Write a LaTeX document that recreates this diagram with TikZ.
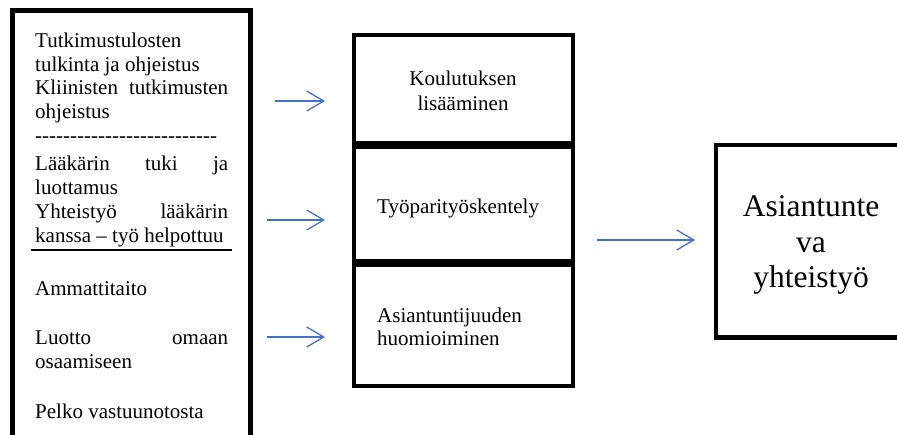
\documentclass[tikz,border=0pt]{standalone}
\usepackage{fontspec}
\setmainfont{Liberation Serif}
\usetikzlibrary{arrows.meta}
\definecolor{arrowblue}{RGB}{68,114,196}
\tikzset{
  frame/.style={draw, line width=4.5pt, inner sep=0pt, outer sep=0pt, anchor=north west},
  ltext/.style={anchor=base west, inner sep=0pt, font=\fontsize{21}{25}\selectfont},
  ctext/.style={anchor=base, inner sep=0pt, font=\fontsize{21}{25}\selectfont},
  bigtext/.style={align=center, inner sep=0pt, font=\fontsize{31.5}{35.5}\selectfont},
  flow/.style={draw=arrowblue, line width=1.3pt, -{Straight Barb[length=17pt,width=20pt,line width=1.3pt]}}
}
\newcommand{\jline}[1]{\makebox[193pt][s]{#1}}
\begin{document}
\begin{tikzpicture}[x=1pt,y=-1pt]
\useasboundingbox (0,0) rectangle (897,434);
\clip (0,0) rectangle (897,434);
% left column box (open at bottom)
\node[frame, minimum width=238pt, minimum height=460pt] (left) at (12.5,10.5) {};
\node[ltext] (t1) at (35,47) {Tutkimustulosten};
\node[ltext] (t2) at (35,71) {tulkinta ja ohjeistus};
\node[ltext] (t3) at (35,94) {\jline{Kliinisten tutkimusten}};
\node[ltext] (t4) at (35,118) {ohjeistus};
\node[ltext] (t5) at (35,142) {-{}-{}-{}-{}-{}-{}-{}-{}-{}-{}-{}-{}-{}-{}-{}-{}-{}-{}-{}-{}-{}-{}-{}-{}-{}-{}};
\node[ltext] (t6) at (35,170) {\jline{Lääkärin tuki ja}};
\node[ltext] (t7) at (35,194) {luottamus};
\node[ltext] (t8) at (35,218) {\jline{Yhteistyö lääkärin}};
\node[ltext] (t9) at (35,242) {kanssa – työ helpottuu};
\coordinate (u1) at (31,250);
\coordinate (u2) at (232,250);
\draw[line width=1.6pt] (u1) -- (u2);
\node[ltext] (t10) at (35,295) {Ammattitaito};
\node[ltext] (t11) at (35,344) {\jline{Luotto omaan}};
\node[ltext] (t12) at (35,368) {osaamiseen};
\node[ltext] (t13) at (35,418) {Pelko vastuunotosta};
% middle boxes
\node[frame, minimum width=219pt, minimum height=108pt] (b1) at (354,35) {};
\node[frame, minimum width=219pt, minimum height=114pt] (b2) at (354,147) {};
\node[frame, minimum width=219pt, minimum height=121pt] (b3) at (354,265) {};
\node[ctext] (k1) at (463,85) {Koulutuksen};
\node[ctext] (k2) at (463,110) {lisääminen};
\node[ltext] (k3) at (377,213) {Työparityöskentely};
\node[ltext] (k4) at (377,322) {Asiantuntijuuden};
\node[ltext] (k5) at (377,345) {huomioiminen};
% right box (open at right)
\node[frame, minimum width=300pt, minimum height=192.5pt] (right) at (716,145) {};
\node[bigtext] (r1) at (811,245) {Asiantunte\\va\\yhteistyö};
% arrows
\coordinate (a1s) at (275,101); \coordinate (a1e) at (325,101);
\coordinate (a2s) at (267,220); \coordinate (a2e) at (325,220);
\coordinate (a3s) at (267,337); \coordinate (a3e) at (325,337);
\coordinate (a4s) at (597,240); \coordinate (a4e) at (695,240);
\draw[flow] (a1s) -- (a1e);
\draw[flow] (a2s) -- (a2e);
\draw[flow] (a3s) -- (a3e);
\draw[flow] (a4s) -- (a4e);
\end{tikzpicture}
\end{document}
